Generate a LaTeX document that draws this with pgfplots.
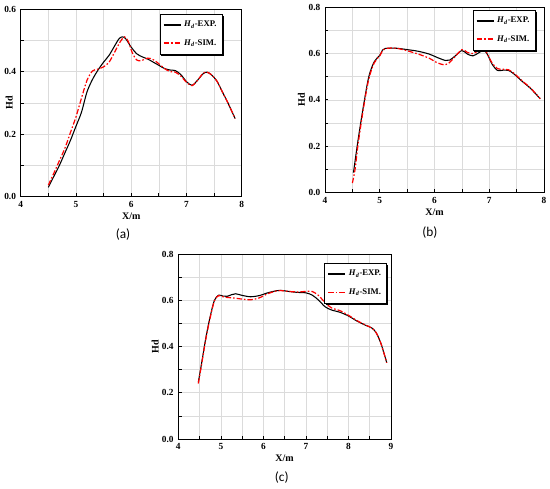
\documentclass[border=0pt]{standalone}
\usepackage{pgfplots}
\pgfplotsset{compat=1.18}
\usepackage{fontspec}
\setmainfont{Liberation Serif}
\newfontfamily\capfont{Carlito}
\pgfplotsset{
  myax/.style={
    scale only axis,
    anchor=south west,
    xmin=4, ymin=0,
    xtick distance=1, ytick distance=0.2,
    minor tick num=1,
    grid=both,
    major grid style={gray!28, line width=0.4pt},
    minor grid style={gray!28, line width=0.4pt},
    tick align=inside,
    xtick pos=left, ytick pos=left,
    major tick length=2.5pt, minor tick length=2.5pt,
    tick style={black, line width=0.5pt},
    axis line style={line width=0.7pt},
    /pgf/number format/assume math mode=true,
    tick label style={font=\bfseries\fontsize{7}{8}\selectfont},
    yticklabel style={/pgf/number format/.cd, fixed, fixed zerofill, precision=1},
    xticklabel style={/pgf/number format/.cd, fixed, precision=0},
    label style={font=\bfseries\fontsize{7.5}{8}\selectfont},
    xlabel={X/m}, ylabel={Hd},
    xlabel style={yshift=3pt},
    legend cell align=left,
    legend style={draw=none, fill=white,
      font=\bfseries\fontsize{6.5}{7}\selectfont,
      inner xsep=2pt, inner ysep=3pt, row sep=4pt},
    legend image code/.code={\draw[#1, line width=1.15pt] (0cm,0cm) -- (0.45cm,0cm);},
  },
  expl/.style={draw=black, line width=0.8pt, smooth, tension=0.5},
  siml/.style={draw=red, line width=0.9pt, dash pattern=on 4pt off 1.5pt on 1.2pt off 1.5pt, smooth, tension=0.5},
}
\newcommand{\expent}{\textit{H}\textsubscript{\textit{d}}-EXP.}
\newcommand{\siment}{\textit{H}\textsubscript{\textit{d}}-SIM.}
\newcommand{\legshadow}[1]{\draw[black, line width=0.5pt] (#1.south west) rectangle (#1.north east);
\draw[black, line width=1.2pt] ([xshift=0.6pt,yshift=-1.2pt]#1.north east) -- ([xshift=0.6pt,yshift=-0.6pt]#1.south east) -- ([xshift=1.2pt,yshift=-0.6pt]#1.south west);}
\begin{document}
\begin{tikzpicture}
\useasboundingbox (0,0) rectangle (412.5pt,366.75pt);
% ---------------- (a)
\begin{axis}[myax, at={(15.525pt,219.225pt)}, width=165.75pt, height=140.775pt,
  xmax=8, ymax=0.6,
  ylabel style={at={(axis description cs:-0.052,0.5)}, anchor=center},
  legend style={at={(0.911,0.973)}, anchor=north east, name=lega}]
\addplot[expl] coordinates {
(4.5,0.03) (4.6,0.065) (4.7,0.10) (4.8,0.14) (4.9,0.18) (5.0,0.225) (5.1,0.27) (5.2,0.335) (5.3,0.375) (5.4,0.405) (5.5,0.43) (5.6,0.452) (5.7,0.482) (5.78,0.505) (5.84,0.511) (5.9,0.505) (6.0,0.478) (6.1,0.457) (6.2,0.447) (6.3,0.44) (6.4,0.43) (6.5,0.42) (6.6,0.41) (6.7,0.405) (6.8,0.403) (6.9,0.39) (7.0,0.368) (7.1,0.356) (7.2,0.372) (7.3,0.393) (7.37,0.398) (7.45,0.39) (7.55,0.37) (7.65,0.335) (7.75,0.30) (7.88,0.25)};
\addlegendentry{\expent}
\addplot[siml] coordinates {
(4.5,0.037) (4.6,0.075) (4.7,0.115) (4.8,0.155) (4.9,0.205) (5.0,0.255) (5.1,0.315) (5.2,0.372) (5.3,0.402) (5.4,0.408) (5.5,0.415) (5.6,0.43) (5.7,0.462) (5.8,0.495) (5.88,0.511) (5.95,0.495) (6.02,0.46) (6.1,0.437) (6.18,0.435) (6.3,0.443) (6.4,0.438) (6.5,0.425) (6.6,0.41) (6.7,0.40) (6.8,0.398) (6.9,0.385) (7.0,0.366) (7.1,0.355) (7.2,0.372) (7.3,0.394) (7.37,0.398) (7.45,0.39) (7.55,0.37) (7.65,0.335) (7.75,0.30) (7.88,0.25)};
\addlegendentry{\siment}
\end{axis}
\legshadow{lega}
% ---------------- (b)
\begin{axis}[myax, at={(243.75pt,222.525pt)}, width=164.25pt, height=138.75pt,
  xmax=8, ymax=0.8,
  ylabel style={at={(axis description cs:-0.108,0.5)}, anchor=center},
  legend style={at={(0.959,0.985)}, anchor=north east, name=legb}]
\addplot[expl] coordinates {
(4.52,0.085) (4.6,0.22) (4.7,0.37) (4.8,0.50) (4.9,0.565) (5.0,0.592) (5.05,0.615) (5.1,0.622) (5.3,0.623) (5.5,0.617) (5.7,0.61) (5.9,0.598) (6.05,0.583) (6.2,0.57) (6.28,0.572) (6.38,0.59) (6.5,0.613) (6.6,0.598) (6.7,0.59) (6.8,0.602) (6.9,0.614) (6.97,0.595) (7.05,0.555) (7.15,0.527) (7.25,0.528) (7.35,0.527) (7.45,0.512) (7.6,0.48) (7.75,0.45) (7.93,0.405)};
\addlegendentry{\expent}
\addplot[siml] coordinates {
(4.5,0.04) (4.55,0.10) (4.6,0.2) (4.7,0.36) (4.8,0.49) (4.9,0.56) (5.0,0.59) (5.05,0.612) (5.1,0.622) (5.3,0.623) (5.5,0.612) (5.7,0.598) (5.9,0.58) (6.05,0.56) (6.18,0.551) (6.25,0.556) (6.35,0.58) (6.5,0.617) (6.6,0.605) (6.7,0.6) (6.8,0.612) (6.88,0.624) (6.95,0.605) (7.05,0.56) (7.15,0.535) (7.25,0.532) (7.35,0.53) (7.45,0.515) (7.6,0.482) (7.75,0.452) (7.93,0.405)};
\addlegendentry{\siment}
\end{axis}
\legshadow{legb}
% ---------------- (c)
\begin{axis}[myax, at={(133.725pt,37.5pt)}, width=159.525pt, height=138.75pt,
  xmax=9, ymax=0.8,
  ylabel style={at={(axis description cs:-0.108,0.5)}, anchor=center},
  legend style={at={(0.98,0.95)}, anchor=north east, name=legc}]
\addplot[expl] coordinates {
(4.47,0.245) (4.55,0.33) (4.65,0.44) (4.75,0.53) (4.85,0.60) (4.95,0.622) (5.05,0.618) (5.15,0.617) (5.25,0.624) (5.35,0.628) (5.5,0.621) (5.7,0.615) (5.9,0.62) (6.1,0.632) (6.3,0.641) (6.4,0.643) (6.6,0.638) (6.8,0.634) (7.0,0.632) (7.15,0.622) (7.3,0.60) (7.45,0.572) (7.6,0.558) (7.8,0.548) (8.0,0.532) (8.2,0.51) (8.4,0.492) (8.55,0.48) (8.65,0.46) (8.75,0.42) (8.82,0.38) (8.9,0.33)};
\addlegendentry{\expent}
\addplot[siml] coordinates {
(4.47,0.24) (4.55,0.325) (4.65,0.435) (4.75,0.525) (4.85,0.598) (4.95,0.62) (5.05,0.615) (5.15,0.612) (5.3,0.61) (5.5,0.605) (5.7,0.602) (5.9,0.61) (6.1,0.628) (6.3,0.64) (6.4,0.642) (6.6,0.638) (6.8,0.636) (7.0,0.638) (7.15,0.638) (7.3,0.62) (7.45,0.59) (7.6,0.567) (7.8,0.555) (8.0,0.535) (8.2,0.512) (8.4,0.493) (8.55,0.48) (8.65,0.46) (8.75,0.42) (8.82,0.38) (8.9,0.33)};
\addlegendentry{\siment}
\end{axis}
\legshadow{legc}
\node[font=\capfont\fontsize{10}{11}\selectfont] at (92.25pt,190.5pt) {(a)};
\node[font=\capfont\fontsize{10}{11}\selectfont] at (322.5pt,192pt) {(b)};
\node[font=\capfont\fontsize{10}{11}\selectfont] at (211.3pt,8.25pt) {(c)};
\end{tikzpicture}
\end{document}
